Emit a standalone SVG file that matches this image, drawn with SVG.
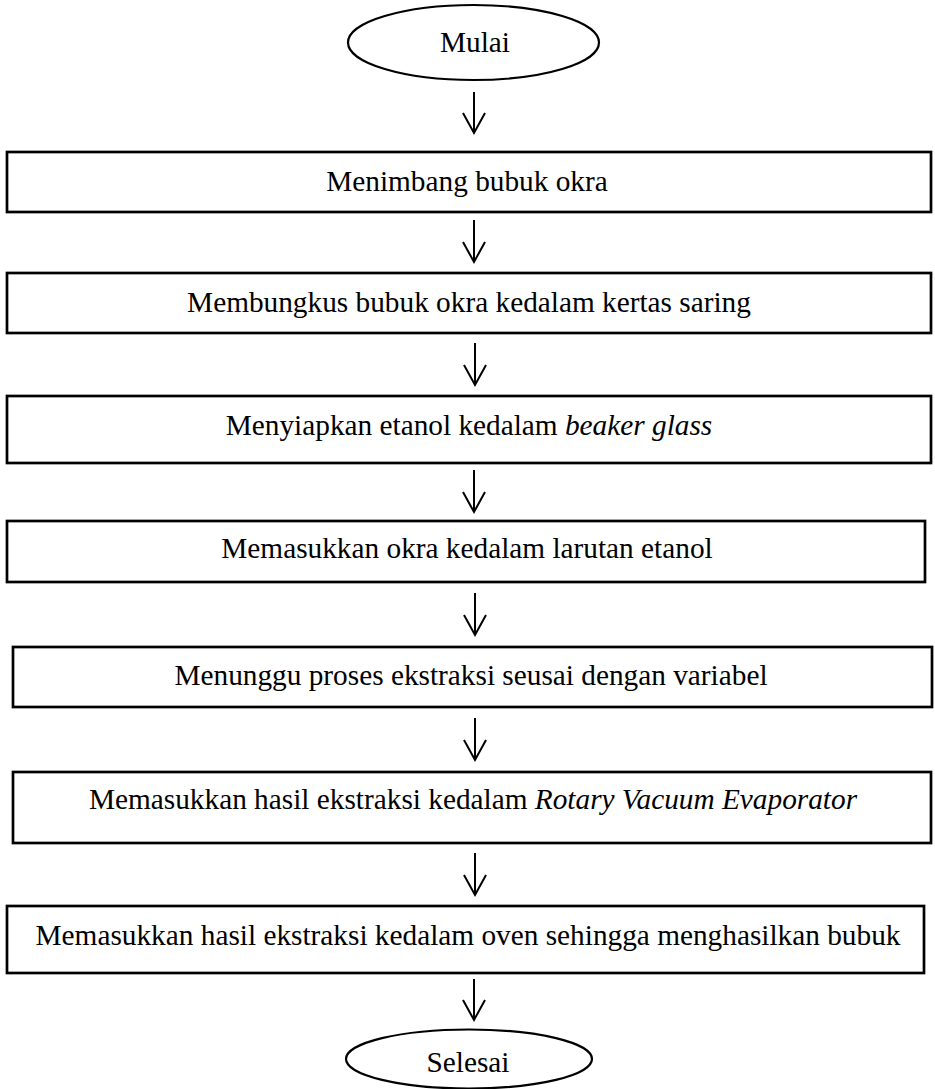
<svg xmlns="http://www.w3.org/2000/svg" width="935" height="1089" viewBox="0 0 935 1089">
  <style>
    .box { fill: #ffffff; stroke: #000000; stroke-width: 2.7; }
    .term { fill: #ffffff; stroke: #000000; stroke-width: 2.2; }
    .lbl { font-family: "Liberation Serif", "Times New Roman", serif; font-size: 29.3px; fill: #000000; text-anchor: middle; }
    .it { font-style: italic; }
    .flow { fill: none; stroke: #000000; stroke-width: 2; marker-end: url(#open); }
  </style>
  <defs>
    <marker id="open" markerUnits="userSpaceOnUse" viewBox="0 0 24 24" markerWidth="24" markerHeight="24" refX="21" refY="12" orient="auto" overflow="visible">
      <path d="M1,1 L21,12 L1,23" fill="none" stroke="#000000" stroke-width="2"/>
    </marker>
  </defs>

  <rect width="935" height="1089" fill="#ffffff"/>

  <!-- connectors -->
  <g id="connectors">
    <line class="flow" x1="474" y1="92" x2="474" y2="133"/>
    <line class="flow" x1="474" y1="220" x2="474" y2="262"/>
    <line class="flow" x1="475" y1="343" x2="475" y2="385"/>
    <line class="flow" x1="474" y1="470" x2="474" y2="512"/>
    <line class="flow" x1="475" y1="593" x2="475" y2="635"/>
    <line class="flow" x1="475" y1="718" x2="475" y2="760"/>
    <line class="flow" x1="475" y1="853" x2="475" y2="895"/>
    <line class="flow" x1="474" y1="979" x2="474" y2="1020"/>
  </g>

  <g id="start">
    <ellipse class="term" cx="473.5" cy="42.5" rx="125.5" ry="37.5"/>
    <text class="lbl" x="475" y="52">Mulai</text>
  </g>

  <g id="step1">
    <rect class="box" x="7" y="152" width="924" height="60"/>
    <text class="lbl" x="467" y="191">Menimbang bubuk okra</text>
  </g>

  <g id="step2">
    <rect class="box" x="7" y="273" width="924" height="60"/>
    <text class="lbl" x="469" y="312">Membungkus bubuk okra kedalam kertas saring</text>
  </g>

  <g id="step3">
    <rect class="box" x="7" y="396" width="924" height="67"/>
    <text class="lbl" x="469" y="435">Menyiapkan etanol kedalam <tspan class="it">beaker glass</tspan></text>
  </g>

  <g id="step4">
    <rect class="box" x="7" y="521" width="918" height="61"/>
    <text class="lbl" x="467" y="558">Memasukkan okra kedalam larutan etanol</text>
  </g>

  <g id="step5">
    <rect class="box" x="13" y="647" width="919" height="60"/>
    <text class="lbl" x="471" y="685">Menunggu proses ekstraksi seusai dengan variabel</text>
  </g>

  <g id="step6">
    <rect class="box" x="13" y="772" width="918" height="71"/>
    <text class="lbl" x="473" y="809">Memasukkan hasil ekstraksi kedalam <tspan class="it">Rotary Vacuum Evaporator</tspan></text>
  </g>

  <g id="step7">
    <rect class="box" x="7" y="906" width="917" height="67"/>
    <text class="lbl" x="468" y="945">Memasukkan hasil ekstraksi kedalam oven sehingga menghasilkan bubuk</text>
  </g>

  <g id="end">
    <ellipse class="term" cx="469" cy="1059" rx="123" ry="29.5"/>
    <text class="lbl" x="468" y="1072">Selesai</text>
  </g>
</svg>
